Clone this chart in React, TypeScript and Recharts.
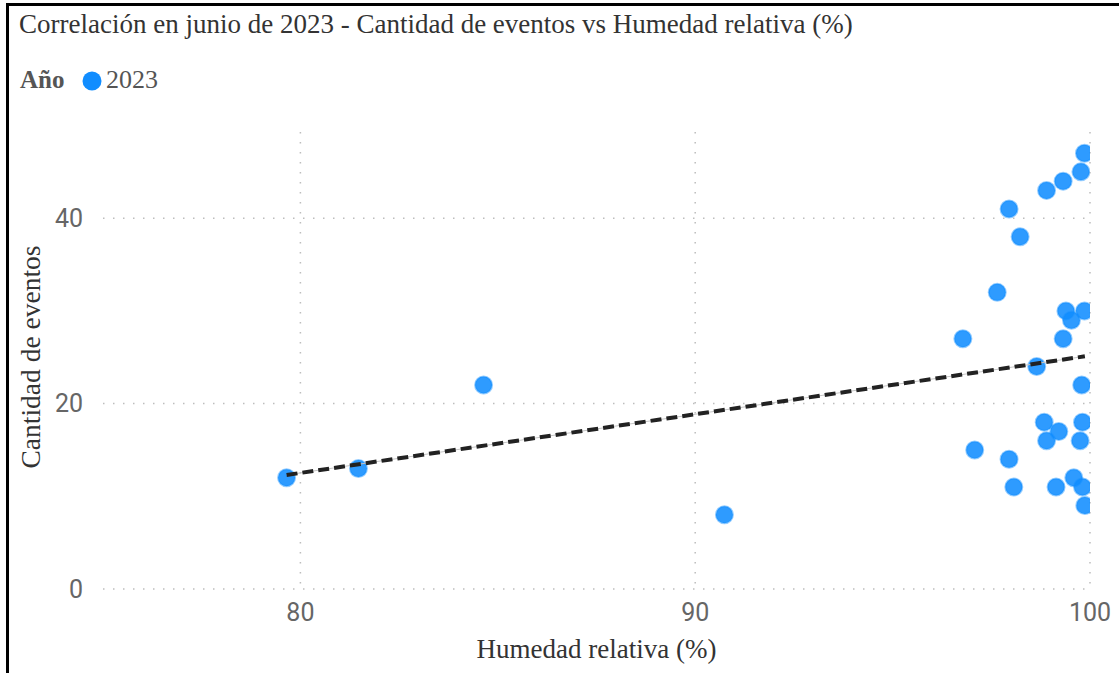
import React from 'react';
import {
  ScatterChart,
  Scatter,
  XAxis,
  YAxis,
  CartesianGrid,
  Label
} from 'recharts';

// humedad relativa (%) por día de junio 2023
const humidity = [
  79.65, 81.47, 84.64, 90.74, 99.86, 99.77, 99.32, 98.9, 97.95, 98.23,
  97.65, 99.39, 99.86, 99.53, 96.78, 99.32, 98.65, 99.79, 98.84, 99.81,
  99.21, 98.9, 99.75, 97.08, 97.95, 99.59, 98.07, 99.14, 99.81, 99.87
];

// cantidad de eventos, mismo orden
const events = [
  12, 13, 22, 8, 47, 45, 44, 43, 41, 38,
  32, 30, 30, 29, 27, 27, 24, 22, 18, 18,
  17, 16, 16, 15, 14, 12, 11, 11, 11, 9
];

// extremos de la línea de tendencia
const trendX = [79.65, 99.87];
const trendY = [12.3, 25.1];

const xTicks = [80, 90, 100];
const yTicks = [0, 20, 40];
const xDomain = [75, 100];
const yDomain = [0, 49.3];

const points = humidity.map((h, i) => ({ x: h, y: events[i] }));
const trend = trendX.map((x, i) => ({ x, y: trendY[i] }));

const BLUE = '#118DFF';
const SERIF = '"Liberation Serif", "Times New Roman", serif';
const SANS = 'Roboto, "Noto Sans", sans-serif';

const Dot = (props: any) => (
  <circle
    cx={props.cx}
    cy={props.cy}
    r={8.5}
    fill={BLUE}
    fillOpacity={0.88}
    stroke={BLUE}
    strokeOpacity={0.45}
    strokeWidth={2}
  />
);

const NoDot = () => <g />;

// grid only on the tick values, not on the domain edges
const hLines = ({ offset }: any) =>
  yTicks.map((t) => offset.top + offset.height * (1 - (t - yDomain[0]) / (yDomain[1] - yDomain[0])));
const vLines = ({ offset }: any) =>
  xTicks.map((t) => offset.left + (offset.width * (t - xDomain[0])) / (xDomain[1] - xDomain[0]));

export default function App() {
  return (
    <div style={{ position: 'absolute', left: 0, top: 0, width: 1119, height: 673, background: '#fff', overflow: 'hidden' }}>
      <div
        style={{
          position: 'absolute',
          left: 6,
          top: 3,
          width: 1200,
          height: 700,
          borderTop: '3px solid #000',
          borderLeft: '3px solid #000'
        }}
      />
      <svg width={1119} height={673} style={{ position: 'absolute', left: 0, top: 0 }}>
        <text x={19} y={33} fontFamily={SERIF} fontSize={27} fill="#333">
          Correlación en junio de 2023 - Cantidad de eventos vs Humedad relativa (%)
        </text>
        <text x={20} y={88} fontFamily={SERIF} fontSize={25} fontWeight="bold" fill="#555">
          Año
        </text>
        <circle cx={92} cy={81} r={9.5} fill={BLUE} />
        <text x={106} y={88} fontFamily={SERIF} fontSize={26} fill="#555">
          2023
        </text>
        <text
          x={0}
          y={0}
          transform="translate(40 357) rotate(-90)"
          textAnchor="middle"
          fontFamily={SERIF}
          fontSize={27.5}
          fill="#333"
        >
          Cantidad de eventos
        </text>
      </svg>
      <div style={{ position: 'absolute', left: 0, top: 0 }}>
        <ScatterChart width={1119} height={673} margin={{ top: 132, right: 29, bottom: 0, left: 43 }}>
          <CartesianGrid
            stroke="#bdbdbd"
            strokeWidth={1.5}
            strokeDasharray="1.5 8.5"
            horizontalCoordinatesGenerator={hLines}
            verticalCoordinatesGenerator={vLines}
          />
          <XAxis
            type="number"
            dataKey="x"
            domain={xDomain}
            ticks={xTicks}
            allowDataOverflow
            axisLine={false}
            tickLine={false}
            tickSize={0}
            tickMargin={14}
            height={84}
            tick={{ fontSize: 25, fill: '#666', fontFamily: SANS }}
          >
            <Label
              value="Humedad relativa (%)"
              position="insideBottom"
              offset={15}
              style={{ fontSize: 27, fill: '#333', fontFamily: SERIF }}
            />
          </XAxis>
          <YAxis
            type="number"
            dataKey="y"
            domain={yDomain}
            ticks={yTicks}
            allowDataOverflow
            axisLine={false}
            tickLine={false}
            tickSize={0}
            tickMargin={20}
            width={60}
            tick={{ fontSize: 25, fill: '#666', fontFamily: SANS }}
          />
          <Scatter data={points} shape={Dot} isAnimationActive={false} />
          <Scatter
            data={trend}
            shape={NoDot}
            line={{ stroke: '#c4c4c4', strokeWidth: 1 }}
            isAnimationActive={false}
          />
          <Scatter
            data={trend}
            shape={NoDot}
            line={{ stroke: '#222', strokeWidth: 4, strokeDasharray: '11 5' }}
            isAnimationActive={false}
          />
        </ScatterChart>
      </div>
    </div>
  );
}
